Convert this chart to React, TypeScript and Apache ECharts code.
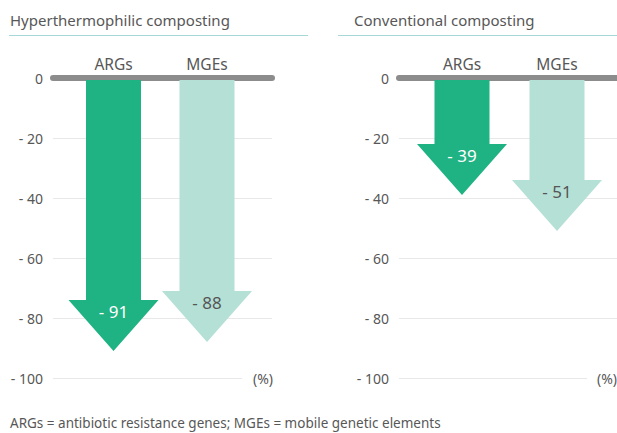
import React, { useEffect, useRef } from "react";
import * as echarts from "echarts";

const categories = ["ARGs", "MGEs"];
const hyperValues = [-91, -88];
const conventionalValues = [-39, -51];
const panelTitles = ["Hyperthermophilic composting", "Conventional composting"];
const yTicks = [0, -20, -40, -60, -80, -100];
const unitLabel = "(%)";
const footnote = "ARGs = antibiotic resistance genes; MGEs = mobile genetic elements";

const FONT = "'Noto Sans', 'Open Sans', sans-serif";
const TEXT = "#575757";
const C_ARG = "#1fb282";
const C_MGE = "#b5e0d6";
const LABEL_COLORS = ["#ffffff", "#555555"];
const FILLS = [C_ARG, C_MGE];

const SHAFT_HALF = 27.5;
const HEAD_HALF = 45;
const HEAD_H = 51;

function renderArrow(params: any, api: any) {
  const idx = api.value(0);
  const val = api.value(1);
  const top = api.coord([idx, 0]);
  const tipP = api.coord([idx, val]);
  const x = top[0];
  const y0 = top[1] + 2;
  const tip = tipP[1];
  const headTop = tip - HEAD_H;
  return {
    type: "group",
    children: [
      {
        type: "polygon",
        shape: {
          points: [
            [x - SHAFT_HALF, y0],
            [x + SHAFT_HALF, y0],
            [x + SHAFT_HALF, headTop],
            [x + HEAD_HALF, headTop],
            [x, tip],
            [x - HEAD_HALF, headTop],
            [x - SHAFT_HALF, headTop],
          ],
        },
        style: { fill: FILLS[idx] },
      },
      {
        type: "text",
        x: x,
        y: headTop + 11,
        style: {
          text: "- " + Math.abs(val),
          align: "center",
          verticalAlign: "middle",
          fill: LABEL_COLORS[idx],
          fontSize: 17,
          fontFamily: FONT,
        },
      },
    ],
  };
}

export default function App() {
  const ref = useRef<HTMLDivElement>(null);
  useEffect(() => {
    document.body.style.margin = "0";
    const chart = echarts.init(ref.current!, undefined, { renderer: "svg" });

    const frames = [
      { left: 53, width: 219 },
      { left: 399, width: 218 },
    ];
    const bars = [
      { left: 66.75, width: 187 },
      { left: 414.5, width: 190 },
    ];
    const grids: any[] = [];
    const xAxes: any[] = [];
    const yAxes: any[] = [];
    const series: any[] = [];
    const valueSets = [hyperValues, conventionalValues];

    frames.forEach((f) => {
      grids.push({ left: f.left, width: f.width, top: 78, height: 300 });
      xAxes.push({
        type: "value",
        gridIndex: grids.length - 1,
        position: "top",
        min: 0,
        max: 1,
        axisLine: { show: true, onZero: false, lineStyle: { color: "#8c8c8c", width: 6 } },
        axisTick: { show: false },
        axisLabel: { show: false },
        splitLine: { show: false },
      });
      yAxes.push({
        type: "value",
        gridIndex: grids.length - 1,
        min: yTicks[yTicks.length - 1],
        max: yTicks[0],
        interval: 20,
        axisLine: { show: false },
        axisTick: { show: false },
        axisLabel: {
          color: TEXT,
          fontSize: 14,
          fontFamily: FONT,
          margin: 10,
          formatter: (v: number) => (v === 0 ? "0" : "- " + Math.abs(v)),
        },
        splitLine: { show: true, lineStyle: { color: "#e8e8e8", width: 1 } },
      });
    });

    bars.forEach((b, i) => {
      grids.push({ left: b.left, width: b.width, top: 78, height: 300 });
      const gi = grids.length - 1;
      xAxes.push({
        type: "category",
        gridIndex: gi,
        position: "top",
        data: categories,
        axisLine: { show: false },
        axisTick: { show: false },
        axisLabel: { color: TEXT, fontSize: 15.5, fontFamily: FONT, margin: 6 },
        splitLine: { show: false },
      });
      yAxes.push({
        type: "value",
        gridIndex: gi,
        min: yTicks[yTicks.length - 1],
        max: yTicks[0],
        show: false,
        splitLine: { show: false },
      });
      series.push({
        type: "custom",
        xAxisIndex: xAxes.length - 1,
        yAxisIndex: yAxes.length - 1,
        renderItem: renderArrow,
        data: valueSets[i].map((v, k) => [k, v]),
        z: 5,
      });
    });

    const titleXs = [10, 354];
    const lineSpans = [
      [9, 308],
      [338, 617],
    ];
    const unitPos = [
      { x: 242, w: 31 },
      { x: 587, w: 30 },
    ];
    const graphic: any[] = [];
    panelTitles.forEach((t, i) => {
      graphic.push({
        type: "text",
        left: titleXs[i],
        top: 12,
        style: { text: t, fill: TEXT, fontSize: 15, fontFamily: FONT },
      });
      graphic.push({
        type: "line",
        shape: { x1: lineSpans[i][0], y1: 35.5, x2: lineSpans[i][1], y2: 35.5 },
        style: { stroke: "#a6d8da", lineWidth: 1 },
      });
      graphic.push({
        type: "rect",
        shape: { x: unitPos[i].x, y: 371, width: unitPos[i].w, height: 14 },
        style: { fill: "#ffffff" },
        z: 10,
      });
      graphic.push({
        type: "text",
        x: unitPos[i].x + unitPos[i].w,
        y: 378,
        style: {
          text: unitLabel,
          align: "right",
          verticalAlign: "middle",
          fill: TEXT,
          fontSize: 14,
          fontFamily: FONT,
        },
        z: 11,
      });
    });
    graphic.push({
      type: "text",
      left: 10,
      top: 416,
      style: { text: footnote, fill: TEXT, fontSize: 13.5, fontFamily: FONT },
    });

    chart.setOption({
      animation: false,
      backgroundColor: "#ffffff",
      grid: grids,
      xAxis: xAxes,
      yAxis: yAxes,
      series,
      graphic,
    });
    return () => chart.dispose();
  }, []);
  return <div ref={ref} style={{ width: 617, height: 433 }} />;
}
